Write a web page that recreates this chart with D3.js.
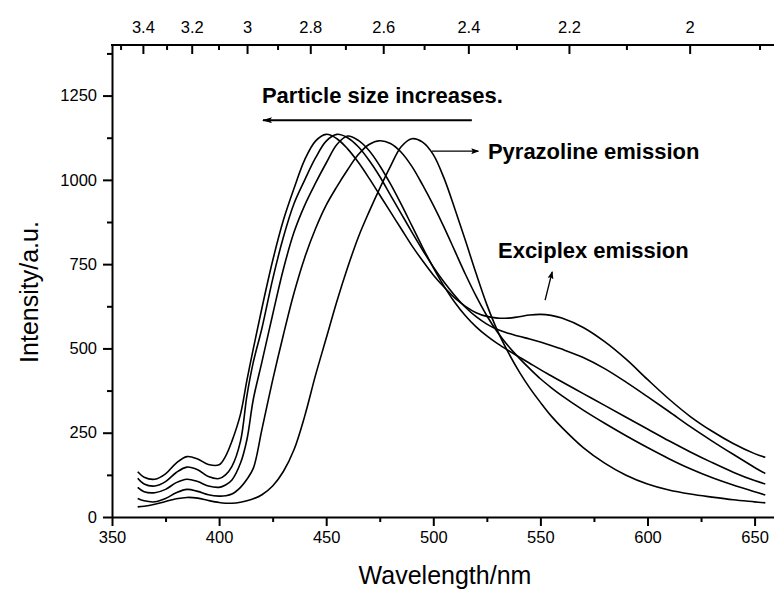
<!DOCTYPE html>
<html>
<head>
<meta charset="utf-8">
<script src="https://cdn.jsdelivr.net/npm/d3@7"></script>
<style>
  body { margin: 0; background: #fff; }
  svg { display: block; font-family: "Liberation Sans", Arial, sans-serif; }
</style>
</head>
<body>
<div id="chart"></div>
<script>
// wavelength grid (nm), shared by all spectra
var wavelengths = [362, 365, 370, 375, 380, 385, 390, 395, 400, 403, 406, 410, 413, 416, 420, 425, 430, 435, 440, 445,
    450, 455, 460, 465, 470, 475, 480, 485, 490, 495, 500, 505, 510, 515, 520, 525, 530, 535, 540, 545,
    550, 555, 560, 570, 580, 590, 600, 610, 620, 630, 640, 650, 655];

// five spectra, blue-most first
var specA = [134, 118, 112, 128, 160, 179, 172, 156, 155, 180, 225, 305, 406, 500, 620, 760, 880, 975, 1060, 1115,
    1135, 1122, 1092, 1052, 1005, 955, 905, 855, 805, 760, 718, 682, 650, 625, 606, 595, 590, 590, 594, 599,
    601, 598, 590, 562, 520, 468, 408, 350, 298, 255, 218, 188, 177];
var specB = [115, 98, 92, 105, 132, 148, 140, 120, 114, 125, 150, 225, 360, 460, 560, 705, 830, 930, 1000, 1065,
    1115, 1135, 1125, 1098, 1058, 1010, 955, 900, 845, 792, 742, 697, 657, 622, 594, 572, 556, 545, 536, 528,
    519, 509, 498, 473, 440, 400, 357, 313, 268, 226, 186, 147, 129];
var specC = [88, 75, 72, 82, 102, 112, 105, 92, 88, 95, 110, 160, 230, 350, 460, 600, 735, 845, 925, 990,
    1050, 1105, 1130, 1117, 1087, 1042, 988, 928, 864, 800, 740, 685, 637, 597, 564, 537, 514, 494, 475, 456,
    437, 419, 401, 366, 331, 296, 261, 226, 193, 162, 133, 108, 98];
var specD = [55, 48, 45, 55, 72, 82, 76, 66, 62, 63, 68, 88, 112, 145, 260, 406, 540, 665, 770, 855,
    925, 980, 1030, 1075, 1105, 1116, 1108, 1082, 1040, 985, 925, 860, 790, 720, 655, 597, 548, 507, 472, 440,
    410, 384, 360, 317, 278, 241, 206, 173, 143, 117, 95, 75, 65];
var specE = [30, 32, 38, 46, 54, 58, 56, 49, 43, 41, 41, 44, 48, 54, 66, 92, 135, 200, 300, 420,
    530, 640, 740, 830, 905, 975, 1040, 1098, 1122, 1112, 1075, 1005, 915, 820, 722, 630, 552, 488, 432, 383,
    340, 300, 266, 206, 160, 124, 98, 80, 68, 59, 51, 45, 42];

var xTicks = [350, 400, 450, 500, 550, 600, 650];
var yTicks = [0, 250, 500, 750, 1000, 1250];
var eTicks = [3.4, 3.2, 3.0, 2.8, 2.6, 2.4, 2.2, 2.0];      // eV, top axis
var eMinor = [3.5, 3.3, 3.1, 2.9, 2.7, 2.5, 2.3, 2.1, 1.9];

var width = 774, height = 595;

var svg = d3.select("#chart").append("svg")
    .attr("width", width)
    .attr("height", height);

var x = d3.scaleLinear().domain([350, 660]).range([112, 776]);
var y = d3.scaleLinear().domain([0, 1400]).range([517, 45]);

// arrow markers
var defs = svg.append("defs");
defs.append("marker")
    .attr("id", "headBig")
    .attr("viewBox", "0 0 10 6")
    .attr("refX", 9).attr("refY", 3)
    .attr("markerWidth", 10).attr("markerHeight", 6)
    .attr("markerUnits", "userSpaceOnUse")
    .attr("orient", "auto")
    .append("path").attr("d", "M0,0 L10,3 L0,6 L2,3 Z").attr("fill", "#000");
defs.append("marker")
    .attr("id", "headSmall")
    .attr("viewBox", "0 0 8 6")
    .attr("refX", 7).attr("refY", 3)
    .attr("markerWidth", 8).attr("markerHeight", 6)
    .attr("markerUnits", "userSpaceOnUse")
    .attr("orient", "auto")
    .append("path").attr("d", "M0,0 L8,3 L0,6 L1.5,3 Z").attr("fill", "#000");

// spectra
var line = d3.line()
    .x(function (d) { return x(d[0]); })
    .y(function (d) { return y(d[1]); })
    .curve(d3.curveCatmullRom);

[specA, specB, specC, specD, specE].forEach(function (s) {
    svg.append("path")
        .datum(wavelengths.map(function (w, i) { return [w, s[i]]; }))
        .attr("d", line)
        .attr("fill", "none")
        .attr("stroke", "#000")
        .attr("stroke-width", 1.6)
        .attr("stroke-linejoin", "round");
});

// bottom axis
var gx = svg.append("g").attr("transform", "translate(0," + y(0) + ")")
    .call(d3.axisBottom(x).tickValues(xTicks).tickSize(9).tickSizeOuter(0).tickPadding(5)
        .tickFormat(d3.format("d")));
svg.append("g").attr("transform", "translate(0," + y(0) + ")")
    .call(d3.axisBottom(x).tickValues(d3.range(375, 660, 50)).tickSize(5).tickFormat(""))
    .select(".domain").remove();

// left axis
var gy = svg.append("g").attr("transform", "translate(" + x(350) + ",0)")
    .call(d3.axisLeft(y).tickValues(yTicks).tickSize(9).tickSizeOuter(0).tickPadding(6)
        .tickFormat(d3.format("d")));
svg.append("g").attr("transform", "translate(" + x(350) + ",0)")
    .call(d3.axisLeft(y).tickValues(d3.range(125, 1400, 250)).tickSize(5).tickFormat(""))
    .select(".domain").remove();

// top axis in photon energy (eV) -> wavelength position
function eToX(e) { return x(1239.84 / e); }
var gt = svg.append("g").attr("transform", "translate(0," + y(1400) + ")");
gt.append("line").attr("x1", x(350) - 1).attr("x2", x(660)).attr("y1", 0).attr("y2", 0)
    .attr("stroke", "#000").attr("stroke-width", 2);
gt.selectAll("line.maj").data(eTicks).enter().append("line")
    .attr("x1", eToX).attr("x2", eToX).attr("y1", 0).attr("y2", 9)
    .attr("stroke", "#000").attr("stroke-width", 2);
gt.selectAll("line.min").data(eMinor).enter().append("line")
    .attr("x1", eToX).attr("x2", eToX).attr("y1", 0).attr("y2", 5)
    .attr("stroke", "#000").attr("stroke-width", 2);
gt.selectAll("text").data(eTicks).enter().append("text")
    .attr("x", eToX).attr("y", -12)
    .attr("text-anchor", "middle")
    .style("font-size", "16.5px")
    .text(function (d) { return d3.format("~g")(d); });

// axis styling
svg.selectAll(".domain").attr("stroke-width", 2);
svg.selectAll(".tick line").attr("stroke-width", 2);
svg.selectAll(".tick text").style("font-size", "16.5px").style("font-family", "Liberation Sans, Arial, sans-serif");

// axis titles
svg.append("text")
    .attr("x", 445).attr("y", 584)
    .attr("text-anchor", "middle")
    .style("font-size", "25px")
    .text("Wavelength/nm");
svg.append("text")
    .attr("transform", "translate(38,292) rotate(-90)")
    .attr("text-anchor", "middle")
    .style("font-size", "25px")
    .text("Intensity/a.u.");

// annotations (positions in data units)
var notes = [
    { text: "Particle size increases.", w: 420, v: 1228 },
    { text: "Pyrazoline emission", w: 525.5, v: 1062 },
    { text: "Exciplex emission", w: 530.2, v: 768 }
];
svg.selectAll("text.note").data(notes).enter().append("text")
    .attr("class", "note")
    .attr("x", function (d) { return x(d.w); })
    .attr("y", function (d) { return y(d.v); })
    .style("font-size", "22px")
    .style("font-weight", "bold")
    .text(function (d) { return d.text; });

var arrows = [
    { w1: 518, v1: 1177, w2: 420.5, v2: 1177, width: 2, head: "headBig" },
    { w1: 499.4, v1: 1085, w2: 521, v2: 1085, width: 1.3, head: "headSmall" },
    { w1: 552.2, v1: 643, w2: 555.5, v2: 727, width: 1.3, head: "headSmall" }
];
svg.selectAll("line.arrow").data(arrows).enter().append("line")
    .attr("class", "arrow")
    .attr("x1", function (d) { return x(d.w1); })
    .attr("y1", function (d) { return y(d.v1); })
    .attr("x2", function (d) { return x(d.w2); })
    .attr("y2", function (d) { return y(d.v2); })
    .attr("stroke", "#000")
    .attr("stroke-width", function (d) { return d.width; })
    .attr("marker-end", function (d) { return "url(#" + d.head + ")"; });
</script>
</body>
</html>
